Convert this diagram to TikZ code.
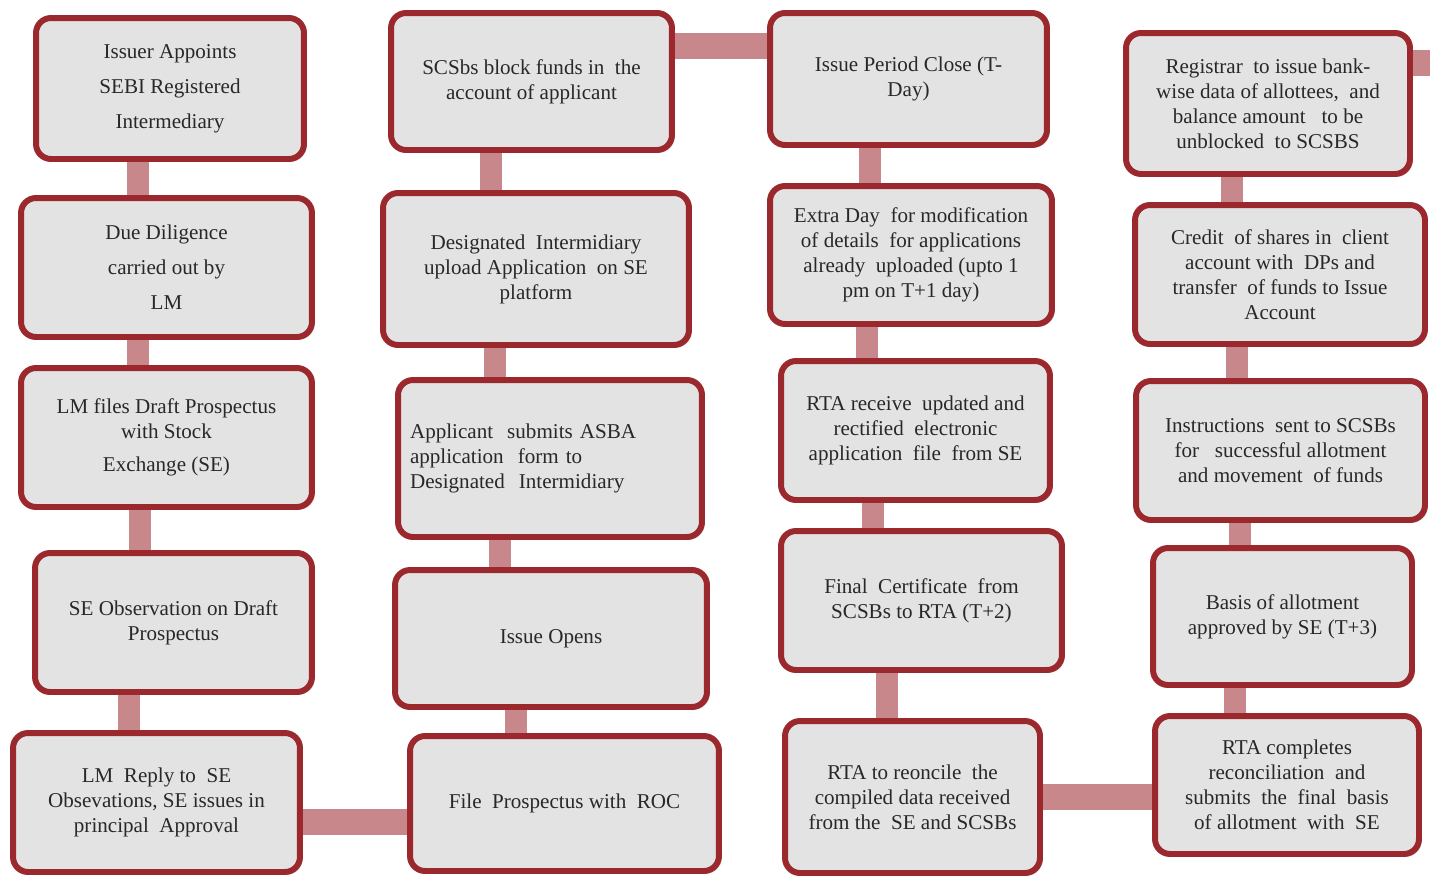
\documentclass[tikz,border=0pt]{standalone}
\usepackage{fontspec}
\setmainfont{Liberation Serif}
\usetikzlibrary{shadows,backgrounds}
\definecolor{boxred}{RGB}{155,40,45}
\definecolor{boxfill}{RGB}{227,227,227}
\definecolor{linkpink}{RGB}{200,135,138}
\definecolor{inktext}{RGB}{40,40,40}
\tikzset{
  stepbox/.style={draw=boxred, fill=boxfill, line width=3.4pt, rounded corners=0.3cm,
    text=inktext, align=center, inner sep=2pt,
    font=\fontsize{12}{14.2}\selectfont,
    drop shadow={shadow xshift=1.5pt, shadow yshift=-1.5pt, opacity=0.25}},
  link/.style={draw=linkpink, line width=12pt},
  hlink/.style={draw=linkpink, line width=15pt}
}
\begin{document}
\begin{tikzpicture}[x=0.02cm, y=-0.02cm]
\useasboundingbox (0,0) rectangle (1430,876);
% first column
\node[stepbox, minimum width=5.36cm, minimum height=2.82cm, font=\fontsize{12}{20}\selectfont] (b1) at (170,88.5) {Issuer Appoints\\SEBI Registered\\Intermediary};
\node[stepbox, minimum width=5.82cm, minimum height=2.78cm, font=\fontsize{12}{20}\selectfont] (b2) at (166.5,267.5) {Due Diligence\\carried out by\\LM};
\node[stepbox, minimum width=5.82cm, minimum height=2.78cm] (b3) at (166.5,437.5) {LM files Draft Prospectus\\with Stock\\[5pt]Exchange (SE)};
\node[stepbox, minimum width=5.54cm, minimum height=2.78cm] (b4) at (173.5,622.5) {SE Observation on Draft\\Prospectus};
\node[stepbox, minimum width=5.74cm, minimum height=2.78cm] (b5) at (156.5,802.5) {LM\ \ Reply to\ \ SE\\Obsevations, SE issues in\\principal\ \ Approval};
% second column
\node[stepbox, minimum width=5.62cm, minimum height=2.74cm] (c1) at (531.5,81.5) {SCSbs block funds in\ \ the\\account of applicant};
\node[stepbox, minimum width=6.12cm, minimum height=3.04cm] (c2) at (536,269) {Designated\ \ Intermidiary\\upload Application\ \ on SE\\platform};
\node[stepbox, minimum height=3.14cm, text width=5.6cm, inner xsep=0.24cm, align=left] (c3) at (550,458.5) {Applicant\ \ submits ASBA\\application\ \ form to\\Designated\ \ Intermidiary};
\node[stepbox, minimum width=6.24cm, minimum height=2.74cm] (c4) at (551,638.5) {Issue Opens};
\node[stepbox, minimum width=6.18cm, minimum height=2.70cm] (c5) at (564.5,803.5) {File\ \ Prospectus with\ \ ROC};
% third column
\node[stepbox, minimum width=5.54cm, minimum height=2.64cm] (d1) at (908.5,79) {Issue Period Close (T-\\Day)};
\node[stepbox, minimum width=5.64cm, minimum height=2.76cm] (d2) at (911,255) {Extra Day\ \ for modification\\of details\ \ for applications\\already\ \ uploaded (upto 1\\pm on T+1 day)};
\node[stepbox, minimum width=5.38cm, minimum height=2.78cm] (d3) at (915.5,430.5) {RTA receive\ \ updated and\\rectified\ \ electronic\\application\ \ file\ \ from SE};
\node[stepbox, minimum width=5.62cm, minimum height=2.78cm] (d4) at (921.5,600.5) {Final\ \ Certificate\ \ from\\SCSBs to RTA (T+2)};
\node[stepbox, minimum width=5.10cm, minimum height=3.04cm] (d5) at (912.5,797) {RTA to reoncile\ \ the\\compiled data received\\from the\ \ SE and SCSBs};
% fourth column
\node[stepbox, minimum width=5.68cm, minimum height=2.82cm] (e1) at (1268,103.5) {Registrar\ \ to issue bank-\\wise data of allottees,\ \ and\\balance amount\ \ \ to be\\unblocked\ \ to SCSBS};
\node[stepbox, minimum width=5.80cm, minimum height=2.78cm] (e2) at (1280,274.5) {Credit\ \ of shares in\ \ client\\account with\ \ DPs and\\transfer\ \ of funds to Issue\\Account};
\node[stepbox, minimum width=5.78cm, minimum height=2.78cm] (e3) at (1280.5,450.5) {Instructions\ \ sent to SCSBs\\for\ \ \ successful allotment\\and movement\ \ of funds};
\node[stepbox, minimum width=5.18cm, minimum height=2.74cm] (e4) at (1282.5,616.5) {Basis of allotment\\approved by SE (T+3)};
\node[stepbox, minimum width=5.28cm, minimum height=2.76cm] (e5) at (1287,785) {RTA completes\\reconciliation\ \ and\\submits\ \ the\ \ final\ \ basis\\of allotment\ \ with\ \ SE};
% connectors behind the boxes
\begin{scope}[on background layer]
\foreach \a/\b/\x in {b1/b2/138, b2/b3/138, b3/b4/140, b4/b5/129,
                      c1/c2/491, c2/c3/495, c3/c4/500, c4/c5/516,
                      d1/d2/870, d2/d3/867, d3/d4/873, d4/d5/887,
                      e1/e2/1232, e2/e3/1237, e3/e4/1240, e4/e5/1235}
  \draw[link] (\a.south -| \x,0) -- (\b.north -| \x,0);
\draw[hlink] (b5.east |- 0,822) -- (c5.west |- 0,822);
\draw[hlink] (c1.east |- 0,46) -- (d1.west |- 0,46);
\draw[hlink] (d5.east |- 0,797) -- (e5.west |- 0,797);
\coordinate (offedge) at (1445,63);
\draw[hlink] (e1.east |- offedge) -- (offedge);
\end{scope}
\end{tikzpicture}
\end{document}
